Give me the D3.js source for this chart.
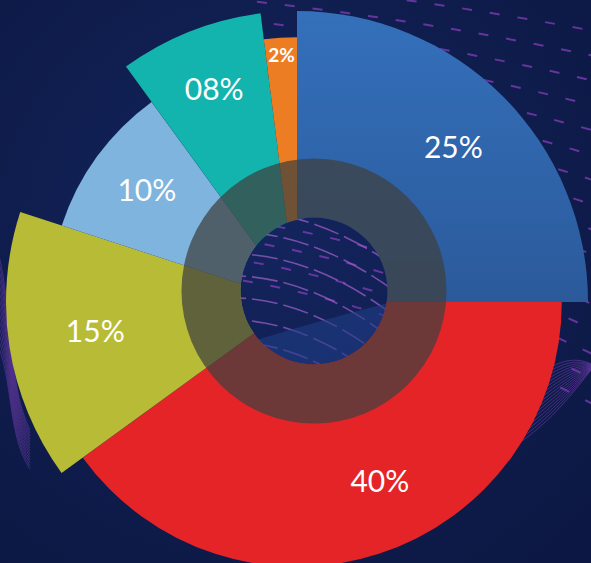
<!DOCTYPE html>
<html>
<head>
<meta charset="utf-8">
<script src="https://cdn.jsdelivr.net/npm/d3@7/dist/d3.min.js"></script>
<style>
  html, body { margin: 0; padding: 0; background: #0d1a48; }
  svg { display: block; }
</style>
</head>
<body>
<svg id="chart" width="591" height="563"></svg>
<script>
// ---- data ----
const categories = ["A", "B", "C", "D", "E", "F"];
const shares = [25, 40, 15, 10, 8, 2];              // slice angle (%)
const labels = ["25%", "40%", "15%", "10%", "08%", "2%"];
const reach = [100, 91, 100, 85, 100, 91];          // relative outer radius
const colors = ["#2f64aa", "#e52428", "#b8bb36", "#7eb4dd", "#13b4ae", "#ec7d23"];

// ---- layout ----
const W = 591, H = 563;
const cx = 297, cy = 302;
const ringOff = [17, -11];
const holeR = 73.5, ringR = 132.5;
const svg = d3.select("#chart");

// background
const defs = svg.append("defs");
const bg = defs.append("radialGradient").attr("id", "bg").attr("cx", "45%").attr("cy", "40%").attr("r", "75%");
bg.append("stop").attr("offset", "0%").attr("stop-color", "#14255e");
bg.append("stop").attr("offset", "100%").attr("stop-color", "#0c1843");
svg.append("rect").attr("width", W).attr("height", H).attr("fill", "url(#bg)");

const blueGrad = defs.append("linearGradient").attr("id", "blueGrad").attr("x1", 0).attr("y1", 0).attr("x2", 0).attr("y2", 1);
blueGrad.append("stop").attr("offset", "0%").attr("stop-color", "#3470bb");
blueGrad.append("stop").attr("offset", "100%").attr("stop-color", "#2b5a9b");

// mask that cuts the hole out of the pie
const mask = defs.append("mask").attr("id", "holeMask");
mask.append("rect").attr("width", W).attr("height", H).attr("fill", "#fff");
mask.append("circle").attr("cx", cx + ringOff[0]).attr("cy", cy + ringOff[1]).attr("r", holeR).attr("fill", "#000");

// decorative background lines
const deco = svg.append("g");
for (let i = 0; i < 16; i++) {
  deco.append("path")
    .attr("d", `M 240 ${-20 + i * 20} Q 440 ${0 + i * 21} 640 ${40 + i * 26}`)
    .attr("fill", "none").attr("stroke", "#8b3fc0").attr("stroke-width", 2)
    .attr("stroke-dasharray", "10 18").attr("stroke-dashoffset", i * 11).attr("opacity", 0.7);
}
for (let i = 0; i < 16; i++) {
  deco.append("path")
    .attr("d", `M 470 ${470 - i * 3} C 540 ${440 - i * 4} 570 ${400 - i * 5} 620 ${330 + i * 4}`)
    .attr("fill", "none").attr("stroke", "#6a3aa6").attr("stroke-width", 1).attr("opacity", 0.6);
}
for (let i = 0; i < 14; i++) {
  deco.append("path")
    .attr("d", `M -10 ${225 + i * 8} C 15 ${290 + i * 6} 5 ${380 + i * 4} 30 ${430 + i * 3}`)
    .attr("fill", "none").attr("stroke", "#6a3aa6").attr("stroke-width", 1).attr("opacity", 0.55);
}
// lines seen through the hole
for (let i = 0; i < 8; i++) {
  deco.append("path")
    .attr("d", `M 220 ${210 + i * 22} Q 320 ${205 + i * 22} 420 ${285 + i * 26}`)
    .attr("fill", "none").attr("stroke", "#9a5cc6").attr("stroke-width", 1.6)
    .attr("stroke-dasharray", "26 6").attr("opacity", 0.75);
}
deco.append("path")
  .attr("d", "M 240 345 Q 320 320 400 300 L 400 380 L 240 380 Z")
  .attr("fill", "#1f3d85").attr("opacity", 0.6);

// ---- pie ----
const pie = d3.pie().sort(null).value(d => d.v).startAngle(0).endAngle(2 * Math.PI);
const data = categories.map((c, i) => ({ c, v: shares[i], r: reach[i], label: labels[i], color: colors[i] }));
const arcs = pie(data);
const rScale = d3.scaleLinear().domain([0, 100]).range([0, 291]);
const arc = d3.arc().innerRadius(0).outerRadius(d => rScale(d.data.r));

const masked = svg.append("g").attr("mask", "url(#holeMask)");
const g = masked.append("g").attr("transform", `translate(${cx},${cy})`);
g.selectAll("path.slice").data(arcs).join("path")
  .attr("class", "slice")
  .attr("d", arc)
  .attr("fill", (d, i) => i === 0 ? "url(#blueGrad)" : d.data.color);

// ---- dark ring overlay ----
g.append("path")
  .attr("transform", `translate(${ringOff[0]},${ringOff[1]})`)
  .attr("d", d3.arc().innerRadius(holeR).outerRadius(ringR).startAngle(0).endAngle(2 * Math.PI)())
  .attr("fill", "#3e403f").attr("fill-opacity", 0.72);

// ---- labels ----
const labelPos = [[0.76, 0], [0.74, -7], [0.70, 1], [0.76, 1], [0.79, 0.5], [0.935, 0]];
const fontSizes = [30, 30, 30, 30, 30, 19];
const lg = svg.append("g").attr("transform", `translate(${cx},${cy})`);
lg.selectAll("text.lbl").data(arcs).join("text")
  .attr("class", "lbl")
  .attr("transform", (d, i) => {
    const a = (d.startAngle + d.endAngle) / 2 + labelPos[i][1] * Math.PI / 180;
    const rr = rScale(d.data.r) * labelPos[i][0];
    return `translate(${rr * Math.sin(a)},${-rr * Math.cos(a)})`;
  })
  .attr("text-anchor", "middle")
  .attr("dominant-baseline", "central")
  .attr("fill", "#ffffff")
  .attr("font-family", "Lato, 'Open Sans', sans-serif")
  .attr("font-size", (d, i) => fontSizes[i])
  .attr("font-weight", (d, i) => i === 5 ? 700 : 400)
  .text(d => d.data.label);
</script>
</body>
</html>
